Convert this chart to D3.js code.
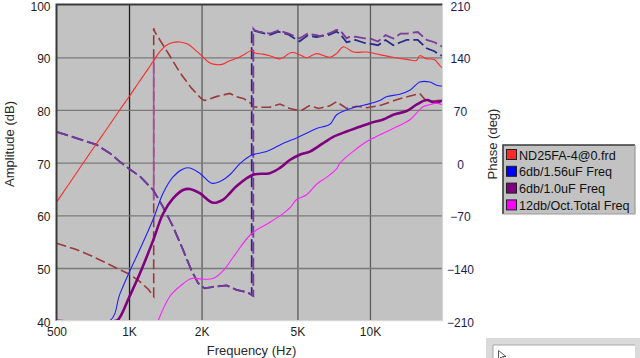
<!DOCTYPE html>
<html><head><meta charset="utf-8">
<script src="https://cdn.jsdelivr.net/npm/d3@7/dist/d3.min.js"></script>
<style>
html,body{margin:0;padding:0;background:#fff;}
svg{display:block;font-family:"Liberation Sans",Arial,sans-serif;}
</style></head>
<body><svg id="c" width="640" height="358"></svg>
<script>
// ---------- data ----------
const freqTicks = [500, 1000, 2000, 5000, 10000];
const freqTickLabels = ["500", "1K", "2K", "5K", "10K"];
const ampTicks = [40, 50, 60, 70, 80, 90, 100];
const phaseTicks = [-210, -140, -70, 0, 70, 140, 210];

const seriesNames = ["ND25FA-4@0.frd", "6db/1.56uF Freq", "6db/1.0uF Freq", "12db/Oct.Total Freq"];
const seriesColors = ["#ff2a2a", "#0000ff", "#800080", "#ff00ff"];

// amplitude (Hz, dB)
const redAmp = [[500,62.5],[600,67.8],[700,72.3],[800,76.1],[915,80],[1000,82.5],[1100,85.3],[1200,87.8],[1266,89.4],[1350,91.2],[1420,92.2],[1520,92.8],[1620,92.9],[1750,92.5],[1850,91.7],[2000,90.3],[2150,89.0],[2300,88.6],[2450,88.7],[2600,89.3],[2800,89.8],[3000,90.5],[3225,91.3],[3330,90.8],[3600,90.6],[3840,90.3],[4230,89.7],[4730,90.9],[5100,90.5],[5460,89.9],[6000,90.7],[6820,90.0],[7300,90.8],[7750,92.0],[8530,91.0],[9690,91.0],[11000,90.5],[12460,90.0],[14200,89.6],[15600,89.4],[16100,90.3],[17200,89.7],[18500,89.6],[19500,88.4],[20000,88.0]];
const blueAmp = [[500,40],[832,40],[915,45],[1000,49.1],[1108,53.5],[1258,59.2],[1384,64.2],[1523,67.3],[1676,68.8],[1786,69.0],[1966,68.0],[2200,66.1],[2380,66.4],[2620,67.7],[2900,69.9],[3220,71.4],[3720,72.1],[4370,73.7],[4960,74.7],[5460,75.6],[6000,76.5],[6820,77.3],[7270,79.1],[8000,80.0],[8800,80.6],[10000,81.2],[11000,81.8],[11700,82.5],[13300,83.0],[14700,83.8],[16100,85.3],[17700,85.3],[18900,84.7],[20000,84.5]];
const purpleAmp = [[500,40],[886,40],[915,40.6],[1000,44.4],[1108,48.9],[1258,55.2],[1384,60.3],[1523,63.2],[1676,64.8],[1786,65.0],[1966,64.2],[2230,62.4],[2460,63.0],[2620,64.2],[2790,65.5],[3270,67.7],[3840,68.0],[4230,69.0],[4650,70.5],[5110,71.5],[5630,72.1],[6400,73.7],[7040,74.9],[8000,75.9],[9070,76.8],[10000,77.5],[11350,78.2],[12500,79.1],[14200,79.8],[15600,81.0],[17200,81.9],[18500,81.4],[20000,81.8]];
const magentaAmp = [[1320,40],[1476,44.6],[1624,46.5],[1816,48.0],[2000,47.9],[2230,48.0],[2460,49.5],[2700,52.0],[3220,56.5],[3720,58.3],[4230,59.9],[4650,61.4],[4960,63.0],[5460,63.9],[6000,65.9],[6600,67.2],[7270,68.8],[7500,69.9],[8500,72.1],[9700,74.0],[11350,75.6],[12900,76.8],[14700,78.2],[15600,79.4],[16600,80.6],[17700,81.0],[18900,81.3],[20000,81.0]];

// phase (Hz, deg)
const redPhase = [[500,-107],[600,-115],[700,-124],[800,-133],[900,-141],[1000,-148],[1100,-157],[1200,-168],[1266,-178],[1266,178.5],[1280,173.6],[1476,142],[1624,120],[1816,99],[2000,84.7],[2060,82.6],[2300,87.7],[2620,92],[2800,87.6],[3000,85],[3225,78],[3300,74],[3500,73.6],[3840,73.6],[4230,77.8],[4650,72],[5150,68.5],[5580,75.6],[6140,72],[6820,75.6],[7270,81],[8000,72],[8800,75],[9700,73],[11000,76],[12000,80],[13300,85],[16100,92],[17200,81],[19500,83],[20000,83]];
const bluePhase = [[500,41],[600,33],[732,24],[832,12.6],[915,1.4],[1000,-8],[1108,-18],[1258,-36],[1384,-59],[1523,-85],[1676,-116],[1815,-143],[1935,-160],[2060,-167],[2230,-165],[2540,-163],[2790,-169],[3070,-172],[3200,-175],[3230,-176],[3230,177],[3330,175],[3500,173],[3850,170],[4170,174],[4600,170],[5100,161],[5500,169],[6000,167],[6800,170],[7250,174],[7500,171.5],[8000,160],[8700,163],[9500,159],[10000,158],[10800,156],[11600,163],[12500,156],[13400,160],[14200,163],[15800,163],[17200,152],[18500,148],[19500,143],[20000,142]];
const purplePhase = [[500,41],[600,33],[732,24],[832,12.6],[915,1.4],[1000,-8],[1108,-18],[1258,-36],[1384,-59],[1523,-85],[1676,-116],[1815,-143],[1935,-160],[2060,-167],[2230,-165],[2540,-163],[2790,-169],[3070,-172],[3220,-175],[3280,-177],[3280,178],[3330,175.7],[3500,173.6],[3850,171.5],[4170,175.6],[4600,171.5],[5100,165],[5500,171.5],[6000,169.4],[6200,168],[6800,172],[7250,176.4],[7500,176],[8000,165.2],[8200,167],[8700,167.3],[9500,165.2],[10000,165.2],[10800,161],[11600,169.4],[12500,165],[13400,171.5],[14200,171.5],[15800,173.6],[17200,163],[18500,160],[19500,156],[20000,154]];
// vertical marker segment (Hz, dB)
const markerSeg = [[1266, 90], [1266, 62.8]];

// ---------- layout ----------
const L = 56.5, R = 442.5, T = 4.6, B = 320.7;
const svg = d3.select("#c");
const x = d3.scaleLog().domain([500, 20000]).range([L, R]);
const yA = d3.scaleLinear().domain([40, 100]).range([B, T]);
const yP = d3.scaleLinear().domain([-210, 210]).range([B, T]);

svg.append("defs").append("clipPath").attr("id", "clip")
  .append("rect").attr("x", L).attr("y", T).attr("width", R - L).attr("height", B - T);

// plot background
svg.append("rect").attr("x", L).attr("y", T).attr("width", R - L).attr("height", B - T).attr("fill", "#c2c2c2");

// grid
const gx = svg.append("g").attr("transform", `translate(0,${B})`)
  .call(d3.axisBottom(x).tickValues(freqTicks.slice(1)).tickSize(-(B - T)).tickFormat(""));
gx.select(".domain").remove();
gx.selectAll("line").attr("stroke", (d) => d === 1000 ? "#1e1e1e" : "#5c5c5c").attr("stroke-width", 1.3);
const gy = svg.append("g").attr("transform", `translate(${L},0)`)
  .call(d3.axisLeft(yA).tickValues(ampTicks.slice(1, -1)).tickSize(-(R - L)).tickFormat(""));
gy.select(".domain").remove();
gy.selectAll("line").attr("stroke", "#7a7a7a").attr("stroke-width", 1.3);

// lines
const plot = svg.append("g").attr("clip-path", "url(#clip)");
const ampLine = d3.line().x(d => x(d[0])).y(d => yA(d[1])).curve(d3.curveCatmullRom.alpha(0.5));
const phLine = d3.line().x(d => x(d[0])).y(d => yP(d[1]));

plot.append("path").datum(redPhase).attr("d", phLine).attr("fill", "none")
  .attr("stroke", "#9a3a3a").attr("stroke-width", 1.6).attr("stroke-dasharray", "10,4");
plot.append("path").datum(markerSeg).attr("d", ampLine).attr("fill", "none")
  .attr("stroke", "#a050b0").attr("stroke-width", 1.6);
plot.append("path").datum(bluePhase).attr("d", phLine).attr("fill", "none")
  .attr("stroke", "#2a2a8a").attr("stroke-width", 1.8).attr("stroke-dasharray", "12,4");
plot.append("path").datum(purplePhase).attr("d", phLine).attr("fill", "none")
  .attr("stroke", "#7a3a9a").attr("stroke-width", 1.8).attr("stroke-dasharray", "12,4");

plot.append("path").datum(redAmp).attr("d", ampLine).attr("fill", "none").attr("stroke", seriesColors[0]).attr("stroke-width", 1.1);
plot.append("path").datum(blueAmp).attr("d", ampLine).attr("fill", "none").attr("stroke", "#2020ff").attr("stroke-width", 1.1);
plot.append("path").datum(purpleAmp).attr("d", ampLine).attr("fill", "none").attr("stroke", seriesColors[2]).attr("stroke-width", 2.6);
plot.append("path").datum(magentaAmp).attr("d", ampLine).attr("fill", "none").attr("stroke", "#ff20ff").attr("stroke-width", 1.1);

// border (sunken look)
svg.append("path").attr("d", `M${L},${B} V${T} H${R}`).attr("fill", "none").attr("stroke", "#3a3a3a").attr("stroke-width", 2);
svg.append("path").attr("d", `M${R},${T} V${B} H${L}`).attr("fill", "none").attr("stroke", "#d6d6d6").attr("stroke-width", 1.2);

// axes labels
const ax1 = svg.append("g").attr("transform", `translate(${L},1.6)`)
  .call(d3.axisLeft(yA).tickValues(ampTicks).tickSize(0).tickPadding(6));
ax1.select(".domain").remove();
ax1.selectAll("text").attr("font-size", 12).attr("fill", "#1e1e1e").attr("font-family", "Liberation Sans, Arial, sans-serif");

const ax2 = svg.append("g").attr("transform", `translate(0,${B})`)
  .call(d3.axisBottom(x).tickValues(freqTicks).tickSize(0).tickPadding(7).tickFormat((d, i) => freqTickLabels[i]));
ax2.select(".domain").remove();
ax2.selectAll("text").attr("font-size", 12).attr("fill", "#1e1e1e").attr("font-family", "Liberation Sans, Arial, sans-serif");

const ax3 = svg.append("g").attr("transform", `translate(${R},1.6)`)
  .call(d3.axisRight(yP).tickValues(phaseTicks).tickSize(0).tickPadding(18));
ax3.select(".domain").remove();
ax3.selectAll("text").attr("font-size", 12).attr("fill", "#1c1c58").attr("text-anchor", "middle")
  .attr("font-family", "Liberation Sans, Arial, sans-serif");

svg.append("text").attr("x", (L + R) / 2 + 2).attr("y", 354.5).attr("text-anchor", "middle")
  .attr("font-size", 13).attr("fill", "#2a2a2a").text("Frequency (Hz)");
svg.append("text").attr("transform", "translate(14,144) rotate(-90)").attr("text-anchor", "middle")
  .attr("font-size", 13).attr("fill", "#2a2a2a").text("Amplitude (dB)");
svg.append("text").attr("transform", "translate(497,144) rotate(-90)").attr("text-anchor", "middle")
  .attr("font-size", 13).attr("fill", "#2a2a2a").text("Phase (deg)");

// legend
const lg = svg.append("g").attr("transform", "translate(503,145)");
lg.append("rect").attr("width", 132).attr("height", 69).attr("fill", "#c2c2c2");
lg.append("path").attr("d", "M0,69 V0 H132").attr("fill", "none").attr("stroke", "#3a3a3a").attr("stroke-width", 1.6);
lg.append("path").attr("d", "M132,0 V69 H0").attr("fill", "none").attr("stroke", "#9a9a9a").attr("stroke-width", 1.2);
const rows = lg.selectAll("g.row").data(seriesNames).join("g").attr("class", "row")
  .attr("transform", (d, i) => `translate(0,${4 + i * 16.8})`);
rows.append("rect").attr("x", 3.5).attr("y", 0.5).attr("width", 10).attr("height", 10)
  .attr("fill", (d, i) => seriesColors[i]).attr("stroke", "#202020").attr("stroke-width", 1);
rows.append("text").attr("x", 16).attr("y", 10.5).attr("font-size", 12.6).attr("fill", "#111").text(d => d);

// bottom-right window fragment
const wf = svg.append("g").attr("transform", "translate(486,338)");
wf.append("rect").attr("width", 154).attr("height", 20).attr("fill", "#dadada");
wf.append("rect").attr("x", 7).attr("y", 7).attr("width", 142).attr("height", 13).attr("fill", "#ffffff");
wf.append("path").attr("d", "M7,20 V7 H149").attr("fill", "none").attr("stroke", "#a8a8a8").attr("stroke-width", 1);
wf.append("path").attr("d", "M12.5,12.5 v9 l2.5,-2.5 l2,4 l1.5,-0.8 l-2,-3.7 h3.5 z")
  .attr("fill", "#fff").attr("stroke", "#333").attr("stroke-width", 0.8);
</script></body></html>
